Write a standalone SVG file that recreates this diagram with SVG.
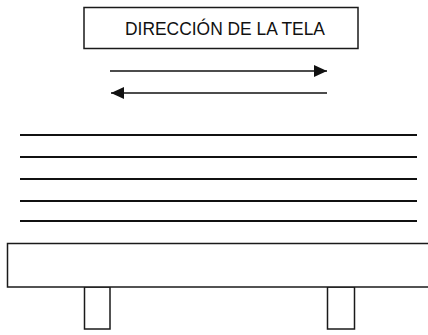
<svg xmlns="http://www.w3.org/2000/svg" width="428" height="335" viewBox="0 0 428 335">
<style>
.box{fill:#fff;stroke:#1a1a1a;stroke-width:1.5}
.ln{stroke:#111;stroke-width:2}
.ar{stroke:#111;stroke-width:1.6;fill:none}
.t{font-family:"Liberation Sans",Arial,sans-serif;font-size:18.5px;fill:#111}
</style>
<defs>
<marker id="ah" markerWidth="13" markerHeight="12" refX="13" refY="6" orient="auto" markerUnits="userSpaceOnUse">
<path d="M0,0 L13,6 L0,12 Z" fill="#111"/>
</marker>
</defs>
<rect width="428" height="335" fill="#fff"/>
<g id="title">
<rect class="box" x="84" y="7.5" width="274" height="41"/>
<text class="t" x="125" y="34.5" textLength="200" lengthAdjust="spacingAndGlyphs">DIRECCIÓN DE LA TELA</text>
</g>
<g id="connectors">
<line class="ar" x1="110" y1="71" x2="327" y2="71" marker-end="url(#ah)"/>
<line class="ar" x1="327" y1="93" x2="111" y2="93" marker-end="url(#ah)"/>
</g>
<g id="fabric">
<line class="ln" x1="20" y1="135" x2="417" y2="135"/>
<line class="ln" x1="20" y1="157" x2="417" y2="157"/>
<line class="ln" x1="20" y1="179" x2="417" y2="179"/>
<line class="ln" x1="20" y1="201" x2="417" y2="201"/>
<line class="ln" x1="20" y1="221" x2="417" y2="221"/>
</g>
<g id="table">
<rect class="box" x="84.5" y="287" width="25.5" height="42"/>
<rect class="box" x="327.5" y="287" width="27" height="42"/>
<rect class="box" x="7.5" y="243.5" width="430" height="43.5"/>
</g>
</svg>
